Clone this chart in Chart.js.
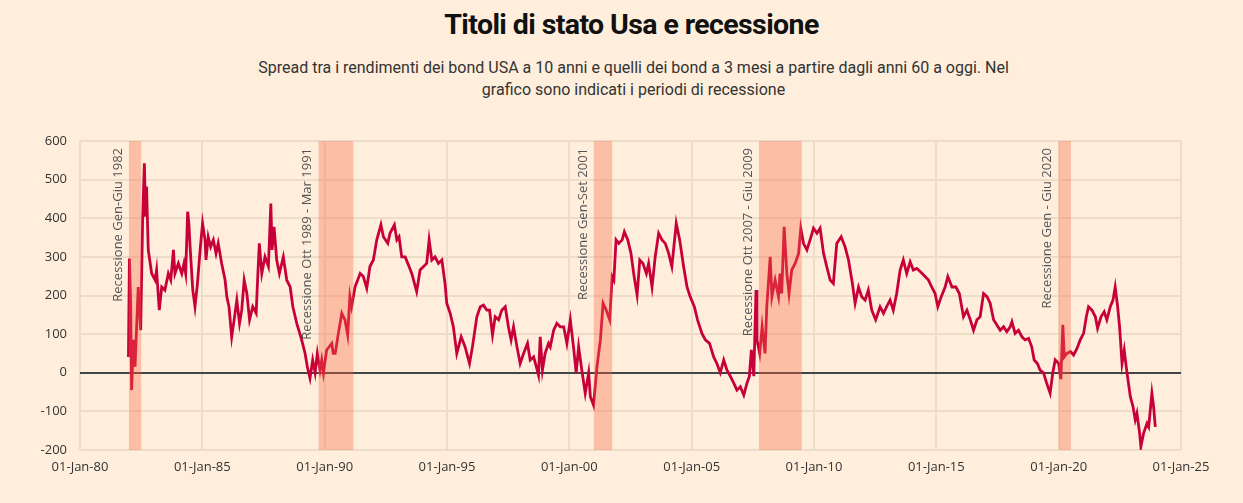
<!DOCTYPE html>
<html lang="it">
<head>
<meta charset="utf-8">
<title>Titoli di stato Usa e recessione</title>
<script src="https://cdn.jsdelivr.net/npm/chart.js@4.4.1/dist/chart.umd.min.js"></script>
<style>
  html, body { margin: 0; padding: 0; background: #feeedb; }
  body { width: 1243px; height: 503px; position: relative; overflow: hidden; font-family: Roboto, sans-serif; }
  h1 { position: absolute; top: 8px; left: 0; width: 1263px; margin: 0; text-align: center;
       font: 700 28.5px Roboto, sans-serif; letter-spacing: -0.6px; color: #111; }
  .sub { position: absolute; top: 57px; left: 0; width: 1267px; margin: 0; text-align: center;
         font: 400 16px Roboto, sans-serif; line-height: 22px; color: #333; }
  .wrap { position: absolute; left: 0; top: 120px; width: 1243px; height: 383px; }
</style>
</head>
<body>
<h1>Titoli di stato Usa e recessione</h1>
<p class="sub">Spread tra i rendimenti dei bond USA a 10 anni e quelli dei bond a 3 mesi a partire dagli anni 60 a oggi. Nel<br>grafico sono indicati i periodi di recessione</p>
<div class="wrap"><canvas id="chart"></canvas></div>
<script>
// dates as decimal years, spread in basis points
const dates = [
  1981.98, 1982.02, 1982.07, 1982.11, 1982.18, 1982.25, 1982.38, 1982.48, 1982.56, 1982.63,
  1982.68, 1982.72, 1982.79, 1982.93, 1983.07, 1983.13, 1983.24, 1983.34, 1983.47, 1983.61,
  1983.71, 1983.82, 1983.88, 1984.02, 1984.16, 1984.25, 1984.32, 1984.40, 1984.45, 1984.50,
  1984.61, 1984.70, 1984.80, 1984.91, 1985.01, 1985.11, 1985.15, 1985.24, 1985.34, 1985.45,
  1985.56, 1985.65, 1985.79, 1985.93, 1986.00, 1986.09, 1986.20, 1986.30, 1986.41, 1986.52,
  1986.61, 1986.71, 1986.82, 1986.93, 1987.06, 1987.20, 1987.27, 1987.33, 1987.43, 1987.56,
  1987.70, 1987.80, 1987.85, 1987.93, 1988.04, 1988.15, 1988.31, 1988.45, 1988.59, 1988.70,
  1988.86, 1989.06, 1989.20, 1989.29, 1989.40, 1989.51, 1989.61, 1989.70, 1989.81, 1989.88,
  1989.95, 1990.08, 1990.29, 1990.35, 1990.43, 1990.56, 1990.70, 1990.83, 1990.94, 1991.03,
  1991.10, 1991.24, 1991.45, 1991.58, 1991.72, 1991.85, 1991.99, 1992.13, 1992.30, 1992.40,
  1992.58, 1992.67, 1992.85, 1992.95, 1993.04, 1993.15, 1993.29, 1993.45, 1993.56, 1993.76,
  1993.90, 1994.04, 1994.17, 1994.27, 1994.38, 1994.51, 1994.65, 1994.79, 1994.92, 1994.99,
  1995.13, 1995.26, 1995.40, 1995.58, 1995.74, 1995.92, 1996.04, 1996.22, 1996.36, 1996.49,
  1996.63, 1996.74, 1996.86, 1996.97, 1997.11, 1997.24, 1997.38, 1997.51, 1997.62, 1997.72,
  1997.86, 1997.99, 1998.13, 1998.29, 1998.40, 1998.54, 1998.65, 1998.74, 1998.81, 1998.90,
  1999.01, 1999.15, 1999.22, 1999.36, 1999.49, 1999.63, 1999.77, 1999.90, 2000.04, 2000.17,
  2000.28, 2000.38, 2000.51, 2000.65, 2000.79, 2000.86, 2000.99, 2001.13, 2001.27, 2001.38,
  2001.51, 2001.65, 2001.75, 2001.82, 2001.91, 2002.02, 2002.16, 2002.25, 2002.39, 2002.52,
  2002.63, 2002.77, 2002.88, 2003.01, 2003.15, 2003.24, 2003.38, 2003.51, 2003.65, 2003.79,
  2003.92, 2004.06, 2004.19, 2004.37, 2004.51, 2004.67, 2004.81, 2004.94, 2005.11, 2005.24,
  2005.42, 2005.56, 2005.73, 2005.90, 2006.03, 2006.17, 2006.31, 2006.44, 2006.58, 2006.72,
  2006.85, 2006.99, 2007.13, 2007.26, 2007.36, 2007.44, 2007.54, 2007.63, 2007.67, 2007.78,
  2007.88, 2008.00, 2008.07, 2008.21, 2008.28, 2008.41, 2008.55, 2008.61, 2008.68, 2008.78,
  2008.89, 2008.98, 2009.09, 2009.23, 2009.37, 2009.46, 2009.57, 2009.71, 2009.84, 2009.98,
  2010.12, 2010.25, 2010.39, 2010.52, 2010.66, 2010.79, 2010.93, 2011.11, 2011.27, 2011.41,
  2011.57, 2011.68, 2011.82, 2011.95, 2012.09, 2012.22, 2012.36, 2012.52, 2012.70, 2012.84,
  2012.97, 2013.11, 2013.24, 2013.38, 2013.52, 2013.65, 2013.79, 2013.93, 2014.06, 2014.20,
  2014.34, 2014.54, 2014.68, 2014.81, 2014.95, 2015.06, 2015.20, 2015.36, 2015.47, 2015.64,
  2015.80, 2015.94, 2016.11, 2016.25, 2016.39, 2016.52, 2016.66, 2016.79, 2016.93, 2017.07,
  2017.20, 2017.34, 2017.47, 2017.61, 2017.75, 2017.88, 2018.02, 2018.09, 2018.22, 2018.36,
  2018.50, 2018.63, 2018.77, 2018.90, 2019.00, 2019.13, 2019.24, 2019.38, 2019.51, 2019.65,
  2019.76, 2019.86, 2020.00, 2020.09, 2020.17, 2020.23, 2020.34, 2020.48, 2020.61, 2020.75,
  2020.88, 2021.02, 2021.13, 2021.22, 2021.36, 2021.50, 2021.59, 2021.73, 2021.86, 2021.97,
  2022.11, 2022.22, 2022.31, 2022.41, 2022.49, 2022.59, 2022.68, 2022.76, 2022.83, 2022.93,
  2023.04, 2023.13, 2023.20, 2023.31, 2023.36, 2023.47, 2023.61, 2023.68, 2023.81, 2023.88,
  2023.95
];
const spread = [
  41, 296, 180, -45, 85, 16, 222, 110, 395, 542,
  404, 482, 318, 257, 240, 266, 162, 222, 214, 257,
  240, 318, 257, 283, 257, 283, 257, 417, 387, 326,
  214, 171, 231, 318, 387, 344, 292, 352, 326, 344,
  309, 335, 283, 240, 197, 171, 93, 137, 188, 128,
  162, 240, 205, 137, 171, 154, 257, 335, 257, 300,
  275, 438, 318, 378, 292, 257, 300, 240, 222, 171,
  128, 85, 50, 16, -14, 33, 0, 50, 7, 33,
  0, 59, 76, 50, 50, 102, 154, 137, 98, 197,
  171, 222, 257, 249, 219, 275, 292, 344, 383, 352,
  335, 361, 383, 344, 352, 300, 300, 275, 257, 210,
  266, 275, 283, 344, 292, 300, 283, 292, 231, 180,
  154, 119, 50, 93, 67, 24, 67, 145, 171, 175,
  162, 162, 98, 145, 137, 162, 171, 119, 85, 119,
  67, 24, 50, 76, 33, 41, 16, -6, 93, 7,
  50, 76, 67, 110, 128, 119, 119, 76, 137, 67,
  0, 67, 7, -53, 0, -62, -84, 16, 85, 180,
  162, 137, 249, 240, 344, 335, 344, 365, 344, 309,
  257, 201, 292, 283, 257, 283, 222, 300, 361, 344,
  335, 309, 275, 387, 344, 275, 222, 197, 171, 137,
  102, 85, 76, 41, 24, 0, 33, 7, -9, -27,
  -45, -36, -58, -27, -9, 59, -9, 214, 85, 50,
  119, 50, 171, 300, 197, 240, 197, 257, 205, 378,
  257, 205, 266, 283, 309, 374, 335, 318, 344, 374,
  361, 374, 309, 275, 240, 231, 335, 352, 326, 292,
  231, 180, 222, 197, 188, 214, 162, 137, 171, 154,
  171, 188, 162, 205, 266, 292, 257, 287, 266, 270,
  262, 249, 240, 222, 205, 171, 197, 222, 249, 222,
  222, 205, 145, 162, 137, 110, 137, 145, 205, 197,
  180, 137, 124, 110, 119, 106, 119, 132, 102, 110,
  93, 85, 89, 67, 33, 24, 7, 0, -27, -53,
  0, 33, 24, -17, 124, 41, 50, 55, 46, 63,
  85, 102, 145, 171, 162, 145, 115, 145, 158, 137,
  171, 188, 222, 171, 119, 24, 59, 16, -17, -62,
  -88, -122, -105, -157, -191, -157, -131, -140, -53, -88,
  -140
];

// recession periods (decimal years) and their labels
const recessionStart = [1982.0, 1989.75, 2001.0, 2007.75, 2020.0];
const recessionEnd = [1982.5, 1991.17, 2001.75, 2009.5, 2020.5];
const recessionLabels = [
  'Recessione Gen-Giu 1982',
  'Recessione Ott 1989 - Mar 1991',
  'Recessione Gen-Set 2001',
  'Recessione Ott 2007 - Giu 2009',
  'Recessione Gen - Giu 2020'
];

const xTicks = [1980, 1985, 1990, 1995, 2000, 2005, 2010, 2015, 2020, 2025];
const yTicks = [-200, -100, 0, 100, 200, 300, 400, 500, 600];

const recessionPlugin = {
  id: 'recessions',
  afterDatasetsDraw: (chart) => {
    const { ctx, chartArea, scales: { x } } = chart;
    ctx.save();
    recessionStart.forEach((start, i) => {
      const left = x.getPixelForValue(start);
      const right = x.getPixelForValue(recessionEnd[i]);
      ctx.fillStyle = 'rgba(248,104,67,0.35)';
      ctx.fillRect(left, chartArea.top, right - left, chartArea.bottom - chartArea.top);

      ctx.save();
      ctx.translate(left - 11, chartArea.top + 7);
      ctx.rotate(-Math.PI / 2);
      ctx.fillStyle = '#555';
      ctx.font = '13px "Open Sans"';
      ctx.textAlign = 'right';
      ctx.textBaseline = 'middle';
      ctx.fillText(recessionLabels[i], 0, 0);
      ctx.restore();
    });
    ctx.restore();
  }
};

const ctx = document.getElementById('chart').getContext('2d');

new Chart(ctx, {
  type: 'line',
  data: {
    datasets: [{
      label: 'Spread 10 anni - 3 mesi',
      data: dates.map((d, i) => ({ x: d, y: spread[i] })),
      borderColor: '#c8003a',
      borderWidth: 2.8,
      pointRadius: 0,
      tension: 0,
      fill: false
    }]
  },
  options: {
    responsive: true,
    maintainAspectRatio: false,
    animation: false,
    layout: { padding: { top: 21, right: 62, left: 0, bottom: 0 } },
    scales: {
      x: {
        type: 'linear',
        min: 1980,
        max: 2025,
        afterBuildTicks: (axis) => { axis.ticks = xTicks.map(v => ({ value: v })); },
        afterFit: (axis) => { axis.height = 53; },
        ticks: {
          padding: 9,
          color: '#333',
          font: { family: '"Open Sans"', size: 13 },
          maxRotation: 0,
          callback: (v) => '01-Jan-' + String(v).slice(2)
        },
        grid: { color: '#eddcc8', lineWidth: 2, drawTicks: false },
        border: { display: false }
      },
      y: {
        min: -200,
        max: 600,
        afterBuildTicks: (axis) => { axis.ticks = yTicks.map(v => ({ value: v })); },
        afterFit: (axis) => { axis.width = 80; },
        ticks: {
          padding: 13,
          color: '#333',
          font: { family: '"Open Sans"', size: 13 }
        },
        grid: {
          drawTicks: false,
          color: (c) => c.tick && c.tick.value === 0 ? '#444' : '#eddcc8',
          lineWidth: 2
        },
        border: { display: false }
      }
    },
    plugins: {
      legend: { display: false },
      tooltip: { enabled: false }
    }
  },
  plugins: [recessionPlugin]
});
</script>
</body>
</html>
